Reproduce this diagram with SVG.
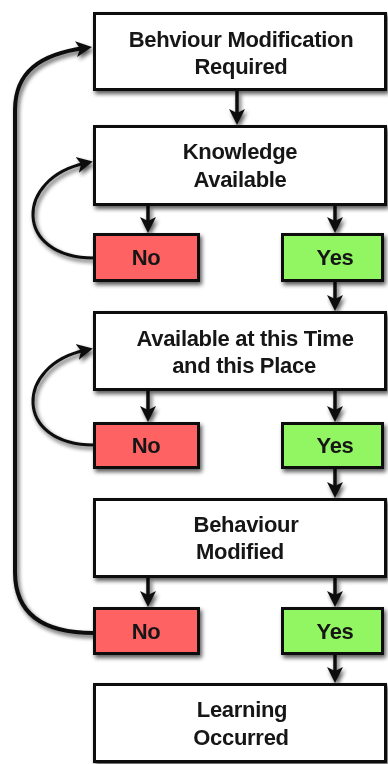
<svg xmlns="http://www.w3.org/2000/svg" width="388" height="764" viewBox="0 0 388 764">
<defs>
<filter id="sh" x="-20%" y="-20%" width="140%" height="140%">
<feGaussianBlur in="SourceAlpha" stdDeviation="2.2"/>
<feOffset dx="2" dy="3" result="b"/>
<feComponentTransfer><feFuncA type="linear" slope="0.65"/></feComponentTransfer>
<feMerge><feMergeNode/><feMergeNode in="SourceGraphic"/></feMerge>
</filter>
<marker id="ah" viewBox="0 -9 16 18" refX="9" refY="0" markerWidth="16" markerHeight="18" markerUnits="userSpaceOnUse" orient="auto">
<path d="M0,-8 L16,0 L0,8 L4,0 Z" fill="#111"/>
</marker>
<style>
.box{fill:#fff;stroke:#111;stroke-width:3}
.no{fill:#ff6262;stroke:#111;stroke-width:3}
.yes{fill:#92f562;stroke:#111;stroke-width:3}
text{font-family:"Liberation Sans",Arial,sans-serif;font-weight:bold;font-size:22px;letter-spacing:-0.3px;fill:#161616;text-anchor:middle}
.c{fill:none;stroke:#111;stroke-width:3.5;marker-end:url(#ah)}
.lp{stroke-width:3}
.big{stroke-width:4}
</style>
</defs>
<g id="connectors" filter="url(#sh)">
<path class="c" d="M237,91 L237,118"/>
<path class="c" d="M148,206 L148,226"/>
<path class="c" d="M335,206 L335,226"/>
<path class="c" d="M335,282 L335,304"/>
<path class="c" d="M148,391 L148,415"/>
<path class="c" d="M335,391 L335,415"/>
<path class="c" d="M335,469 L335,491"/>
<path class="c" d="M148,578 L148,600"/>
<path class="c" d="M335,578 L335,600"/>
<path class="c" d="M335,655 L335,676"/>
<path class="c lp" d="M94,258 C14,258 14,178 86,163"/>
<path class="c lp" d="M94,445 C14,445 14,365 86,350"/>
<path class="c big" d="M94,633 C40,633 15,612 15,572 L15,110 C15,72 40,54 85,48"/>
</g>
<g id="n1" filter="url(#sh)">
<rect class="box" x="94.5" y="13.5" width="291" height="76"/>
<text x="241" y="47">Behviour Modification</text>
<text x="241" y="74">Required</text>
</g>
<g id="n2" filter="url(#sh)">
<rect class="box" x="94.5" y="126.5" width="291" height="78"/>
<text x="240" y="159">Knowledge</text>
<text x="240" y="187">Available</text>
</g>
<g id="no1" filter="url(#sh)">
<rect class="no" x="94.5" y="234.5" width="104" height="46"/>
<text x="146" y="265">No</text>
</g>
<g id="yes1" filter="url(#sh)">
<rect class="yes" x="282.5" y="234.5" width="100" height="46"/>
<text x="335" y="265">Yes</text>
</g>
<g id="n3" filter="url(#sh)">
<rect class="box" x="94.5" y="312.5" width="291" height="77"/>
<text x="245" y="346">Available at this Time</text>
<text x="244" y="373">and this Place</text>
</g>
<g id="no2" filter="url(#sh)">
<rect class="no" x="94.5" y="423.5" width="104" height="44"/>
<text x="146" y="453">No</text>
</g>
<g id="yes2" filter="url(#sh)">
<rect class="yes" x="282.5" y="423.5" width="100" height="44"/>
<text x="335" y="453">Yes</text>
</g>
<g id="n4" filter="url(#sh)">
<rect class="box" x="94.5" y="499.5" width="291" height="77"/>
<text x="246" y="532">Behaviour</text>
<text x="240" y="559">Modified</text>
</g>
<g id="no3" filter="url(#sh)">
<rect class="no" x="94.5" y="608.5" width="104" height="45"/>
<text x="146" y="639">No</text>
</g>
<g id="yes3" filter="url(#sh)">
<rect class="yes" x="282.5" y="608.5" width="100" height="45"/>
<text x="335" y="639">Yes</text>
</g>
<g id="n5" filter="url(#sh)">
<rect class="box" x="94.5" y="684.5" width="291" height="77"/>
<text x="242" y="717">Learning</text>
<text x="241" y="745">Occurred</text>
</g>
</svg>
